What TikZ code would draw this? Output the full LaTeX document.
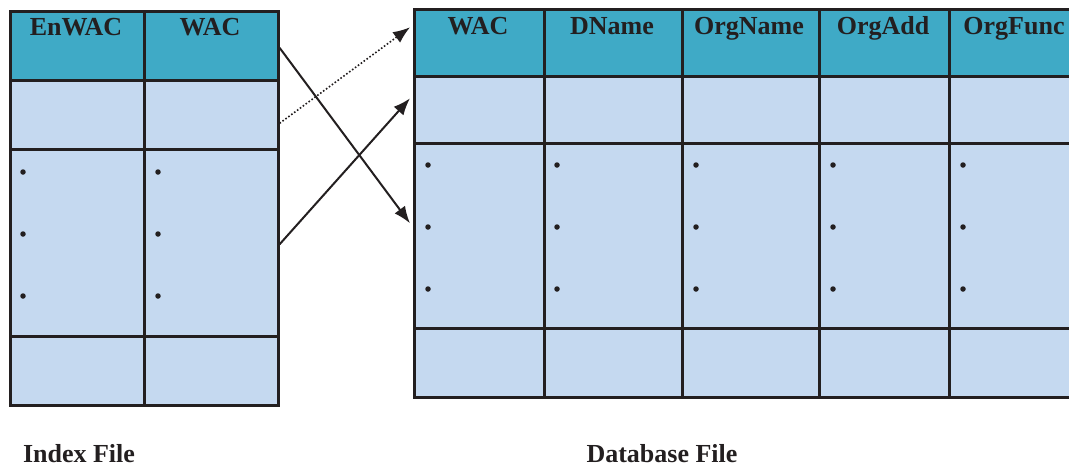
\documentclass[tikz,border=0pt]{standalone}
\usepackage{fontspec}
\setmainfont{Liberation Serif}
\usetikzlibrary{arrows.meta}
\definecolor{headfill}{HTML}{3FAAC6}
\definecolor{bodyfill}{HTML}{C5D9F0}
\definecolor{ink}{HTML}{231F20}
\tikzset{
  cellbox/.style={draw=ink, line width=2.6pt, inner sep=0pt, anchor=north west},
  headcell/.style={cellbox, fill=headfill},
  bodycell/.style={cellbox, fill=bodyfill},
  headtext/.style={font=\bfseries\fontsize{26}{26}\selectfont, text=ink, anchor=base, inner sep=0pt},
  captext/.style={font=\bfseries\fontsize{26}{26}\selectfont, text=ink, anchor=base, inner sep=0pt},
  bullet/.style={circle, fill=ink, inner sep=0pt, minimum size=5.5pt},
  link/.style={ink, line width=2pt, -{Latex[length=17pt,width=13pt]}},
  dottedlink/.style={ink, line width=1.6pt, dotted, -{Latex[length=17pt,width=13pt]}},
}
\begin{document}
\begin{tikzpicture}[x=1pt, y=-1pt]
\useasboundingbox (0,0) rectangle (1069,467);

% ---------- index file ----------
\foreach \c/\x/\w in {a/9/134, b/143/134} {
  \node[headcell, minimum width=\w pt, minimum height=69pt] (i\c0) at (\x,10) {};
  \node[bodycell, minimum width=\w pt, minimum height=69pt] (i\c1) at (\x,79) {};
  \node[bodycell, minimum width=\w pt, minimum height=187pt] (i\c2) at (\x,148) {};
  \node[bodycell, minimum width=\w pt, minimum height=69pt] (i\c3) at (\x,335) {};
}
\node[headtext] (ihA) at (76,35) {EnWAC};
\node[headtext] (ihB) at (210,35) {WAC};
\foreach \x/\n in {23/a, 158/b} {
  \foreach \y/\m in {172/1, 234/2, 296/3} {
    \node[bullet] (id\n\m) at (\x,\y) {};
  }
}

% ---------- database file ----------
\foreach \c/\x/\w in {a/413/130, b/543/138, c/681/137, d/818/130, e/948/132} {
  \node[headcell, minimum width=\w pt, minimum height=67pt] (d\c0) at (\x,8) {};
  \node[bodycell, minimum width=\w pt, minimum height=67pt] (d\c1) at (\x,75) {};
  \node[bodycell, minimum width=\w pt, minimum height=185pt] (d\c2) at (\x,142) {};
  \node[bodycell, minimum width=\w pt, minimum height=69pt] (d\c3) at (\x,327) {};
}
\node[headtext] (dhA) at (478,34) {WAC};
\node[headtext] (dhB) at (612,34) {DName};
\node[headtext] (dhC) at (749,34) {OrgName};
\node[headtext] (dhD) at (883,34) {OrgAdd};
\node[headtext] (dhE) at (1014,34) {OrgFunc};
\foreach \x/\n in {428/a, 557/b, 696/c, 833/d, 963/e} {
  \foreach \y/\m in {165/1, 227/2, 289/3} {
    \node[bullet] (dd\n\m) at (\x,\y) {};
  }
}

% ---------- captions ----------
\node[captext] (capI) at (79,462) {Index File};
\node[captext] (capD) at (662,462) {Database File};

% ---------- links between the files ----------
\coordinate (s1) at ([yshift=-2pt]ib0.east);
\coordinate (s2) at ([yshift=-8.5pt]ib1.east);
\coordinate (s3) at ([yshift=-1.5pt]ib2.east);
\coordinate (t1) at ([xshift=-3pt,yshift=15.5pt]da0.west);
\coordinate (t2) at ([xshift=-3pt,yshift=11.5pt]da1.west);
\coordinate (t3) at ([xshift=-3pt,yshift=12.5pt]da2.west);
\draw[link] (s1) -- (t3);
\draw[dottedlink] (s2) -- (t1);
\draw[link] (s3) -- (t2);
\end{tikzpicture}
\end{document}
